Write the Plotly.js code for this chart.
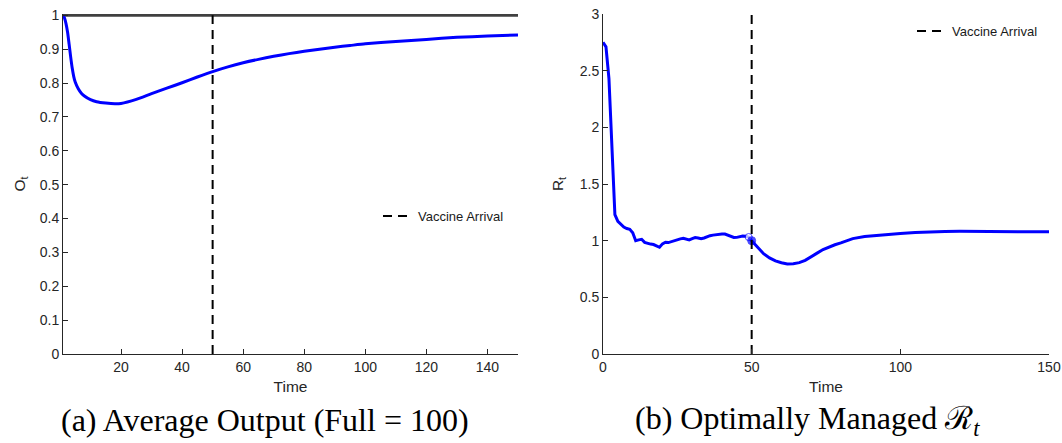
<!DOCTYPE html>
<html>
<head>
<meta charset="utf-8">
<script src="https://cdn.plot.ly/plotly-3.0.1.min.js"></script>
<style>
  html, body { margin: 0; padding: 0; background: #ffffff; }
  #chart { width: 1062px; height: 443px; }
</style>
</head>
<body>
<div id="chart"></div>
<script>
// Panel (a): average output O_t over time (full output = 1)
const timeO = [1, 1.5, 2, 2.5, 3, 3.5, 4, 4.5, 5, 6, 7, 8, 10, 12, 15, 18, 20, 25, 30, 35, 40, 45, 50,
               55, 60, 65, 70, 75, 80, 85, 90, 95, 100, 110, 120, 130, 140, 150];
const outputO = [1.000, 0.992, 0.975, 0.950, 0.915, 0.878, 0.845, 0.820, 0.803, 0.783, 0.770, 0.762, 0.751,
                 0.745, 0.741, 0.739, 0.740, 0.752, 0.769, 0.785, 0.801, 0.818, 0.834,
                 0.848, 0.860, 0.870, 0.879, 0.887, 0.894, 0.900, 0.906, 0.911, 0.916, 0.923, 0.929, 0.935, 0.939, 0.942];
const fullTime = [1, 150];
const fullOutput = [1, 1];

// Panel (b): optimally managed reproduction number R_t
const timeR = [0, 1, 2, 3, 4, 5, 6, 7, 8, 9, 10, 11, 12, 13, 14, 15, 16, 17, 18, 19, 20, 21, 22, 23, 24, 25,
               26, 27, 28, 29, 30, 31, 32, 33, 34, 35, 36, 37, 38, 39, 40, 41, 42, 43, 44, 45, 46, 47, 48, 49, 50,
               52, 54, 56, 58, 60, 62, 64, 66, 68, 70, 72, 74, 76, 78, 80, 84, 88, 92, 96, 100,
               105, 110, 115, 120, 130, 140, 150];
const valuesR = [2.750, 2.710, 2.430, 1.850, 1.230, 1.170, 1.140, 1.120, 1.107, 1.100, 1.070, 1.000, 1.007,
                 1.012, 0.985, 0.975, 0.970, 0.966, 0.957, 0.942, 0.972, 0.986, 0.983, 0.992, 1.002, 1.010,
                 1.016, 1.021, 1.014, 1.007, 1.018, 1.027, 1.024, 1.018, 1.024, 1.036, 1.044, 1.049, 1.054,
                 1.057, 1.059, 1.058, 1.050, 1.040, 1.028, 1.029, 1.035, 1.041, 1.040, 1.032, 1.000,
                 0.945, 0.885, 0.848, 0.822, 0.805, 0.795, 0.797, 0.806, 0.826, 0.855, 0.890, 0.922, 0.946,
                 0.964, 0.980, 1.018, 1.036, 1.047, 1.056, 1.064, 1.072, 1.078, 1.081, 1.082, 1.082, 1.080, 1.078];
// values on either side of the vaccine date
const switchTime = [49, 50];
const switchR = [1.032, 1.000];

// Vaccine arrival date
const vaccineTime = [50, 50];
const vaccineSpanO = [0, 1];
const vaccineSpanR = [0, 3];

const ticksO = [0, 0.1, 0.2, 0.3, 0.4, 0.5, 0.6, 0.7, 0.8, 0.9, 1];
const tickTextO = ['0', '0.1', '0.2', '0.3', '0.4', '0.5', '0.6', '0.7', '0.8', '0.9', '1'];
const ticksTimeO = [20, 40, 60, 80, 100, 120, 140];
const ticksR = [0, 0.5, 1, 1.5, 2, 2.5, 3];
const tickTextR = ['0', '0.5', '1', '1.5', '2', '2.5', '3'];
const ticksTimeR = [0, 50, 100, 150];

const captionA = '(a) Average Output (Full = 100)';
const captionB = '(b) Optimally Managed \u211B<sub><i>t</i></sub>';

const BLUE = '#0000ff';
const AX = '#262626';
const SANS = 'Liberation Sans, Arial, Helvetica, sans-serif';
const SERIF = 'Liberation Serif, Times New Roman, serif';

const traces = [
  { x: fullTime, y: fullOutput, xaxis: 'x', yaxis: 'y', mode: 'lines', showlegend: false,
    line: { color: '#404040', width: 3 }, hoverinfo: 'skip' },
  { x: timeO, y: outputO, xaxis: 'x', yaxis: 'y', mode: 'lines', showlegend: false,
    line: { color: BLUE, width: 3, shape: 'spline', smoothing: 0.6 } },
  { x: vaccineTime, y: vaccineSpanO, xaxis: 'x', yaxis: 'y', mode: 'lines', name: 'Vaccine Arrival',
    legend: 'legend', line: { color: '#000000', width: 2, dash: '9px,6px' } },
  { x: timeR, y: valuesR, xaxis: 'x2', yaxis: 'y2', mode: 'lines', showlegend: false,
    line: { color: BLUE, width: 3 } },
  { x: switchTime, y: switchR, xaxis: 'x2', yaxis: 'y2', mode: 'markers', showlegend: false,
    cliponaxis: false,
    marker: { size: [7, 8], color: ['#ffffff', BLUE], line: { color: BLUE, width: 1 } } },
  { x: vaccineTime, y: vaccineSpanR, xaxis: 'x2', yaxis: 'y2', mode: 'lines', name: 'Vaccine Arrival',
    legend: 'legend2', line: { color: '#000000', width: 2, dash: '9px,6px' } }
];

const axisBase = {
  showline: true, linecolor: AX, linewidth: 1, mirror: false,
  ticks: 'inside', ticklen: 5, tickwidth: 1, tickcolor: AX,
  showgrid: false, zeroline: false,
  tickfont: { family: SANS, size: 14, color: AX }
};

const L = 63, R = 13, T = 14, B = 89;
const PW = 1062 - L - R;

const layout = {
  width: 1062, height: 443,
  margin: { l: L, r: R, t: T, b: B, pad: 0 },
  paper_bgcolor: '#ffffff', plot_bgcolor: '#ffffff',
  font: { family: SANS, color: AX },
  xaxis: Object.assign({}, axisBase, {
    domain: [0, 455 / PW], range: [1, 150], anchor: 'y',
    tickmode: 'array', tickvals: ticksTimeO,
    title: { text: 'Time', font: { family: SANS, size: 15.5, color: AX }, standoff: 7 }
  }),
  yaxis: Object.assign({}, axisBase, {
    domain: [0, 1], range: [0, 1.004], anchor: 'x',
    tickmode: 'array', tickvals: ticksO, ticktext: tickTextO,
    title: { text: 'O<sub>t</sub>', font: { family: SANS, size: 15.5, color: AX }, standoff: 10 }
  }),
  xaxis2: Object.assign({}, axisBase, {
    domain: [540 / PW, 1], range: [0, 150], anchor: 'y2',
    tickmode: 'array', tickvals: ticksTimeR,
    title: { text: 'Time', font: { family: SANS, size: 15.5, color: AX }, standoff: 7 }
  }),
  yaxis2: Object.assign({}, axisBase, {
    domain: [0, 1], range: [0, 3], anchor: 'x2',
    tickmode: 'array', tickvals: ticksR, ticktext: tickTextR,
    title: { text: 'R<sub>t</sub>', font: { family: SANS, size: 15.5, color: AX }, standoff: 12 }
  }),
  legend: {
    x: (378 - L) / PW, xanchor: 'left', y: (354 - 216) / 340, yanchor: 'middle',
    bgcolor: 'rgba(0,0,0,0)', borderwidth: 0,
    font: { family: SANS, size: 13, color: '#1a1a1a' }
  },
  legend2: {
    x: (912 - L) / PW, xanchor: 'left', y: (354 - 31) / 340, yanchor: 'middle',
    bgcolor: 'rgba(0,0,0,0)', borderwidth: 0,
    font: { family: SANS, size: 13, color: '#1a1a1a' }
  },
  annotations: [
    { text: captionA, xref: 'paper', yref: 'paper', x: (265 - L) / PW, y: (354 - 420) / 340,
      xanchor: 'center', yanchor: 'middle', showarrow: false,
      font: { family: SERIF, size: 32, color: '#000000' } },
    { text: captionB, xref: 'paper', yref: 'paper', x: (807 - L) / PW, y: (354 - 420) / 340,
      xanchor: 'center', yanchor: 'middle', showarrow: false,
      font: { family: SERIF, size: 32, color: '#000000' } }
  ],
  showlegend: true
};

Plotly.newPlot('chart', traces, layout, { staticPlot: true, displayModeBar: false });
</script>
</body>
</html>
